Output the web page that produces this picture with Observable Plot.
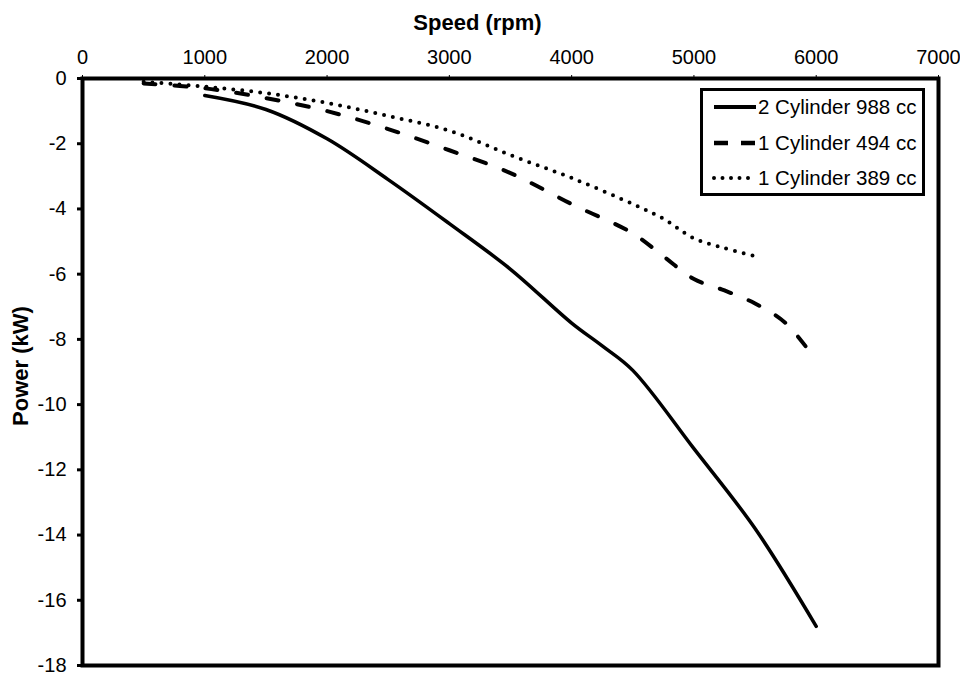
<!DOCTYPE html>
<html>
<head>
<meta charset="utf-8">
<script src="https://cdn.jsdelivr.net/npm/d3@7"></script>
<script src="https://cdn.jsdelivr.net/npm/@observablehq/plot@0.6"></script>
<style>
  html, body { margin: 0; padding: 0; background: #fff; }
  #wrap { position: relative; width: 960px; height: 675px; font-family: "Liberation Sans", Arial, sans-serif; }
  #legend { position: absolute; left: 700px; top: 88px; width: 219px; height: 102px; border: 3.5px solid #000; background: #fff; }
  .row { position: absolute; left: 0; height: 30px; display: flex; align-items: center; font-size: 20.5px; color: #000; white-space: nowrap; }
  .row svg { margin-left: 9px; margin-right: 0px; }
</style>
</head>
<body>
<div id="wrap"></div>
<script>
// ---- data ----
const speed988 = [1000, 1500, 2000, 2500, 3000, 3500, 4000, 4250, 4500, 5000, 5500, 6000];
const power988 = [-0.52, -0.95, -1.85, -3.1, -4.45, -5.85, -7.5, -8.2, -8.95, -11.35, -13.8, -16.8];

const speed494 = [500, 1000, 1500, 2000, 2500, 3000, 3500, 4000, 4500, 4750, 5000, 5250, 5500, 5750, 6000];
const power494 = [-0.15, -0.3, -0.6, -1.0, -1.55, -2.2, -2.9, -3.85, -4.75, -5.45, -6.15, -6.5, -6.9, -7.5, -8.65];

const speed389 = [500, 1000, 1500, 2000, 2500, 3000, 3500, 4000, 4500, 4750, 5000, 5250, 5500];
const power389 = [-0.1, -0.25, -0.45, -0.75, -1.15, -1.6, -2.35, -3.05, -3.85, -4.3, -4.9, -5.2, -5.45];

const seriesNames = ["2 Cylinder 988 cc", "1 Cylinder 494 cc", "1 Cylinder 389 cc"];
const xTicks = [0, 1000, 2000, 3000, 4000, 5000, 6000, 7000];
const yTicks = [0, -2, -4, -6, -8, -10, -12, -14, -16, -18];
const xTitle = "Speed (rpm)";
const yTitle = "Power (kW)";

const toRows = (xs, ys) => xs.map((x, i) => ({speed: x, power: ys[i]}));
const d988 = toRows(speed988, power988);
const d494 = toRows(speed494, power494);
const d389 = toRows(speed389, power389);

const font = "Liberation Sans, Arial, sans-serif";

const chart = Plot.plot({
  width: 960,
  height: 675,
  marginLeft: 82,
  marginRight: 22,
  marginTop: 78,
  marginBottom: 10,
  style: {fontFamily: font, fontSize: "20px", color: "#000", background: "#fff"},
  x: {domain: [0, 7000]},
  y: {domain: [-18, 0]},
  marks: [
    Plot.axisX({anchor: "top", ticks: xTicks, tickSize: 4, tickPadding: 11, label: null, tickFormat: d => String(d), fontSize: 20, strokeWidth: 1}),
    Plot.axisY({anchor: "left", ticks: yTicks, tickSize: 5, tickPadding: 11, label: null, tickFormat: d => String(d), fontSize: 20, strokeWidth: 3}),
    Plot.line(d988, {x: "speed", y: "power", stroke: "#000", strokeWidth: 3.5, curve: "catmull-rom"}),
    Plot.line(d494, {x: "speed", y: "power", stroke: "#000", strokeWidth: 4, curve: "catmull-rom", strokeDasharray: "12,19", strokeLinecap: "round"}),
    Plot.line(d389, {x: "speed", y: "power", stroke: "#000", strokeWidth: 4, curve: "catmull-rom", strokeDasharray: "0,9", strokeLinecap: "round"}),
    Plot.frame({stroke: "#000", strokeWidth: 4}),
    Plot.text([xTitle], {frameAnchor: "top", dy: -64, dx: -33, fontWeight: "bold", fontSize: 22, fill: "#000"}),
    Plot.text([yTitle], {frameAnchor: "left", dx: -62, dy: -6, rotate: -90, textAnchor: "middle", fontWeight: "bold", fontSize: 22, fill: "#000"})
  ]
});

const wrap = document.getElementById("wrap");
wrap.appendChild(chart);

// legend overlay
const legend = document.createElement("div");
legend.id = "legend";
const samples = [
  {dash: null, width: 4},
  {dash: "14,13", width: 4.5},
  {dash: "0,8.5", width: 4}
];
seriesNames.forEach((name, i) => {
  const row = document.createElement("div");
  row.className = "row";
  row.style.top = (1 + i * 35.5) + "px";
  const s = samples[i];
  const svg = d3.create("svg").attr("width", 46).attr("height", 20);
  svg.append("line").attr("x1", 2).attr("x2", 44).attr("y1", 10).attr("y2", 10)
    .attr("stroke", "#000").attr("stroke-width", s.width)
    .attr("stroke-linecap", s.dash && s.dash.startsWith("0") ? "round" : "butt")
    .attr("stroke-dasharray", s.dash);
  row.appendChild(svg.node());
  const t = document.createElement("span");
  t.textContent = name;
  row.appendChild(t);
  legend.appendChild(row);
});
wrap.appendChild(legend);
</script>
</body>
</html>
